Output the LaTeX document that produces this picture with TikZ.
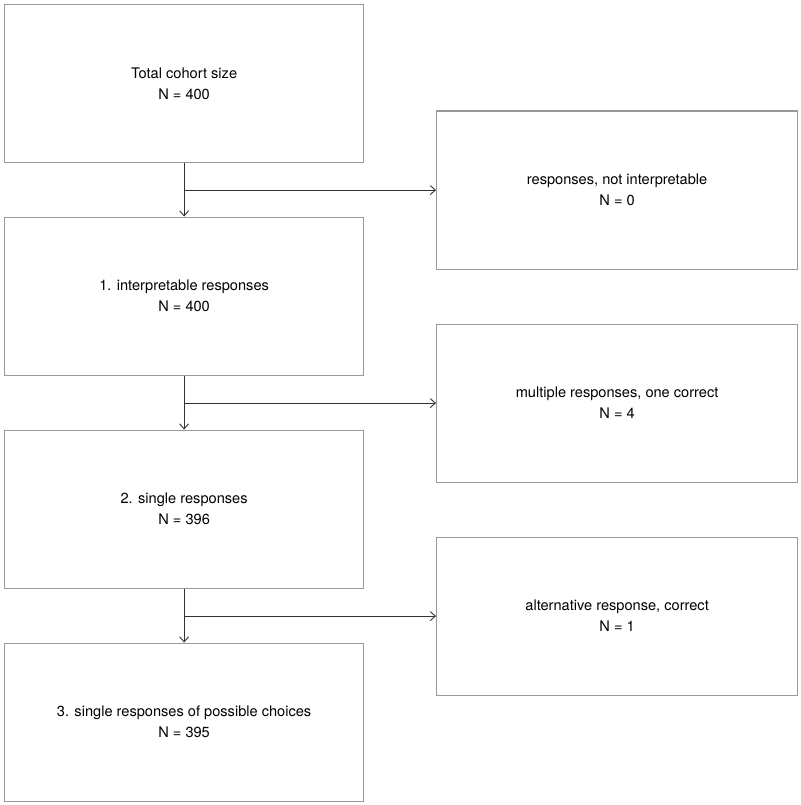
\documentclass[tikz,border=0pt]{standalone}
\usepackage{fontspec}
\setmainfont{TeX Gyre Heros}
\usetikzlibrary{arrows.meta}
\begin{document}
\begin{tikzpicture}[x=1pt,y=-1pt,
  box/.style={draw=black!40,line width=1.2pt,minimum width=359pt,minimum height=158pt,inner sep=0pt,align=center,font=\fontsize{14.6}{21}\selectfont,anchor=north west},
  conn/.style={draw=black!80,line width=1pt,-{Straight Barb[length=5pt,width=9pt,line width=0.9pt]}}]
\useasboundingbox (0,0) rectangle (800,805);
\node[box] (a) at (4,4) {Total cohort size\\N = 400};
\node[box] (b) at (4,216.5) {1. interpretable responses\\N = 400};
\node[box] (c) at (4,429.5) {2. single responses\\N = 396};
\node[box] (d) at (4,642.5) {3. single responses of possible choices\\N = 395};
\node[box,minimum width=361pt] (r1) at (436,110.5) {responses, not interpretable\\N = 0};
\node[box,minimum width=361pt] (r2) at (436,323.5) {multiple responses, one correct\\N = 4};
\node[box,minimum width=361pt] (r3) at (436,536.5) {alternative response, correct\\N = 1};
\draw[conn] (a.south) -- (b.north);
\draw[conn] (b.south) -- (c.north);
\draw[conn] (c.south) -- (d.north);
\draw[conn] (a.south |- r1.west) -- (r1.west);
\draw[conn] (b.south |- r2.west) -- (r2.west);
\draw[conn] (c.south |- r3.west) -- (r3.west);
\end{tikzpicture}
\end{document}
